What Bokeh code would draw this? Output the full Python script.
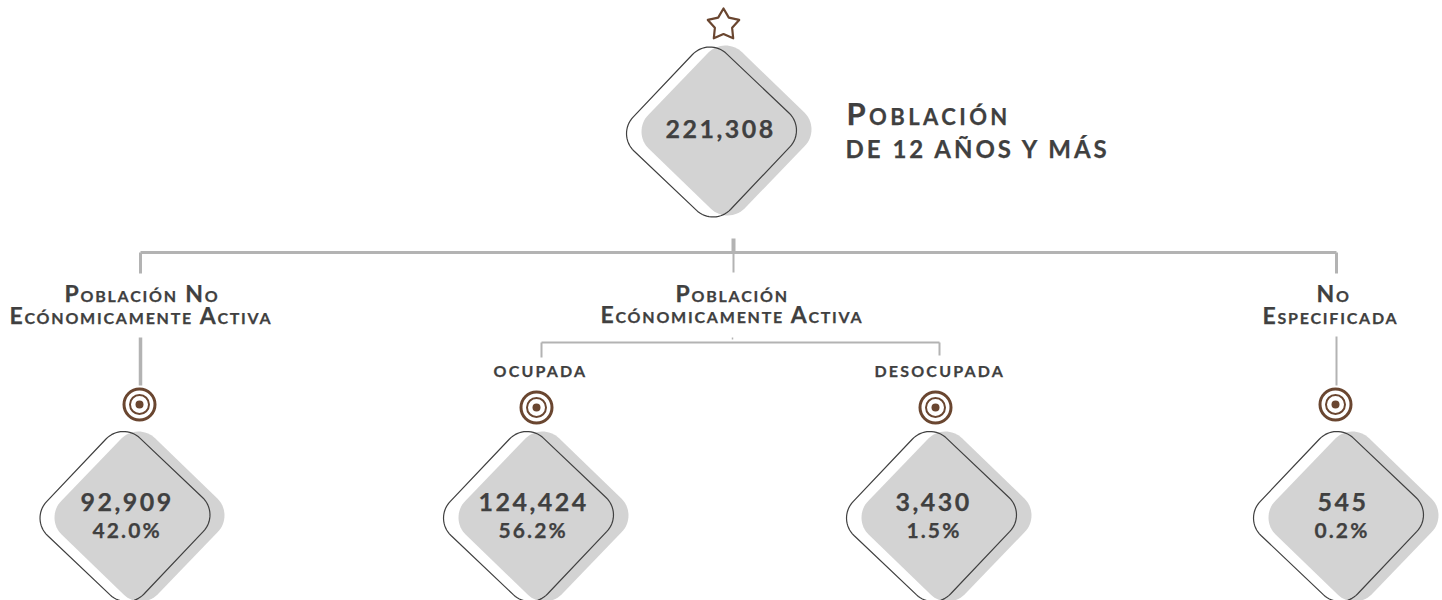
import math
from bokeh.plotting import figure
from bokeh.document import Document
from bokeh.models import Range1d, CustomJS
from bokeh.core.properties import value
from bokeh.embed import file_html
from bokeh.resources import INLINE

# ---- chart values ----
total = 221308
title_lines = ["Población", "DE 12 AÑOS Y MÁS"]
group_labels = ["Población No", "Ecónomicamente Activa", "Población", "Ecónomicamente Activa", "No", "Especificada"]
sub_labels = ["OCUPADA", "DESOCUPADA"]
counts = [92909, 124424, 3430, 545]
percents = [42.0, 56.2, 1.5, 0.2]

# ---- layout (page pixels) ----
W, H = 1442, 600
INK, GRAY, LINE, BROWN = "#404040", "#d3d3d3", "#b3b3b3", "#6a4630"
FONT = "Lato"
BASELINE_SHIFT = 0.42  # em: Bokeh sets alphabetic text this far below the given y

p = figure(width=W, height=H, output_backend="svg", toolbar_location=None,
           x_range=Range1d(0, W), y_range=Range1d(H, 0),
           min_border=0, outline_line_color=None, background_fill_color="white",
           border_fill_color="white")
p.axis.visible = False
p.grid.visible = False


def diamond(cx, cy, tip=85.0, r=24.0, deg=1.5):
    D = tip + r * (math.sqrt(2) - 1)
    inner = D - r * math.sqrt(2)
    xs, ys = [], []
    rot = math.radians(deg)
    for base in (-90, 0, 90, 180):
        a = math.radians(base)
        ox, oy = inner * math.cos(a), inner * math.sin(a)
        for i in range(17):
            t = math.radians(base - 45 + 90 * i / 16)
            x, y = ox + r * math.cos(t), oy + r * math.sin(t)
            xs.append(cx + x * math.cos(rot) + y * math.sin(rot))
            ys.append(cy - x * math.sin(rot) + y * math.cos(rot))
    return xs, ys


def star(cx, cy, R=16.5, ratio=0.55):
    xs, ys = [], []
    for i in range(10):
        rad = R if i % 2 == 0 else R * ratio
        a = math.radians(-90 + 36 * i)
        xs.append(cx + rad * math.cos(a))
        ys.append(cy + rad * math.sin(a))
    return xs, ys


# connectors
segments = [
    ((140, 1336), (252, 252), 3), ((140, 140), (252, 273), 3),
    ((1336, 1336), (252, 273), 3), ((733, 733), (238, 252), 4),
    ((733, 733), (252, 272), 2), ((140, 140), (337, 385), 3.5),
    ((1336, 1336), (336, 385), 2), ((541, 939), (342, 342), 2),
    ((541, 541), (342, 357), 2), ((939, 939), (342, 355), 2),
    ((732, 732), (337, 339), 1.5),
]
for sx, sy, w in segments:
    p.line(list(sx), list(sy), line_color=LINE, line_width=w)

# diamonds
outline_c = [(711, 131.5), (124.5, 516), (528, 516), (931, 516), (1338, 516)]
gray_c = [(726, 130), (139, 516), (543, 516), (946, 516), (1353, 516)]
for c in gray_c:
    x, y = diamond(*c, deg=1.0)
    p.patch(x, y, fill_color=GRAY, line_color=None)
for c in outline_c:
    x, y = diamond(*c, deg=1.5)
    p.patch(x, y, fill_color=None, line_color=INK, line_width=1.2)

# star
x, y = star(723, 24.5)
p.patch(x, y, fill_color=None, line_color=BROWN, line_width=2.2, line_join="round")

# targets
tx = [139, 536, 935, 1335]
ty = [404, 407, 407, 404]
p.scatter(tx, ty, size=31, marker="circle", fill_color=None, line_color=BROWN, line_width=3)
p.scatter(tx, ty, size=19, marker="circle", fill_color=None, line_color=BROWN, line_width=2)
p.scatter(tx, ty, size=8, marker="circle", fill_color=BROWN, line_color=None)


def txt(s, x, y, size):
    p.text([x], [y - BASELINE_SHIFT * size], text=[s], text_font=value(FONT),
           text_font_size=f"{size}px", text_font_style="bold", text_color=INK,
           text_align="left", text_baseline="alphabetic")


# numbers
txt(f"{total:,}", 665, 139, 25)
num_x = [80, 478, 895, 1317]
pct_x = [92, 498, 906, 1314]
for nx, px, n, pc in zip(num_x, pct_x, counts, percents):
    txt(f"{n:,}", nx, 512, 25)
    txt(f"{pc:.1f}%", px, 538, 21)

# headline
txt(title_lines[0], 846, 126, 31)
txt(title_lines[1], 845, 158, 24)

# labels
lab_x = [64, 9, 675, 600, 1316, 1262]
lab_y = [302, 324, 302, 323, 302, 324]
for s, lx, ly in zip(group_labels, lab_x, lab_y):
    txt(s, lx, ly, 23)
for s, lx in zip(sub_labels, [493, 874]):
    txt(s, lx, 377, 16)

# small caps and tracking, which Bokeh's text glyph has no property for
cb = CustomJS(code="""
const track = {31: 0.11, 24: 0.125, 23: 0.077, 16: 0.1375, 25: 0.1, 21: 0.1};
function style(e) {
  const size = parseFloat(getComputedStyle(e).fontSize);
  e.style.letterSpacing = ((track[size] || 0.08) * size) + 'px';
  e.style.stroke = '#404040';
  e.style.strokeWidth = '0.25px';
  if (/[a-záéíóúñ]/.test(e.textContent)) e.style.fontVariant = 'small-caps';
}
function walk(root) {
  root.querySelectorAll('*').forEach(e => {
    if (e.tagName === 'text') style(e);
    if (e.shadowRoot) walk(e.shadowRoot);
  });
}
let n = 0;
const t = setInterval(() => { walk(document); if (++n > 20) clearInterval(t); }, 50);
""")
doc = Document()
doc.add_root(p)
doc.js_on_event("document_ready", cb)

open("out.html", "w").write(file_html(doc, INLINE))
